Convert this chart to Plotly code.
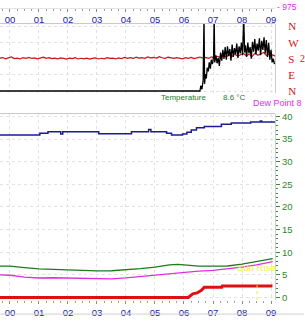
import plotly.graph_objects as go

W, H = 305, 321
def fx(p):
    return p / W
def fy(p):
    return 1 - p / H

# ---------------- data ----------------
hour_ticks = [0, 1, 2, 3, 4, 5, 6, 7, 8, 9]
hour_labels = ["00", "01", "02", "03", "04", "05", "06", "07", "08", "09"]
x_range = [-0.3436, 9.1409]

# top panel: wind direction (degrees) sampled every 0.1 h starting at -0.35
wind_t0 = -0.35
wind_step = 0.1
wind_dir = [183, 187, 180, 185, 190, 181, 184, 179, 186, 183,
            188, 182, 185, 180, 184, 189, 183, 186, 181, 184,
            180, 185, 182, 178, 184, 181, 186, 179, 183, 180,
            184, 178, 182, 185, 179, 183, 180, 186, 182, 184,
            179, 185, 181, 188, 183, 186, 182, 189, 184, 187,
            183, 190, 185, 188, 184, 192, 186, 183, 189, 185,
            182, 187, 184, 180, 186, 183, 188, 181, 185, 190,
            184, 188, 183, 191, 186, 194, 188, 198, 190, 203,
            192, 206, 195, 201, 210, 197, 205, 193, 212, 200,
            208, 215, 198, 210, 202, 195]

# top panel: wind speed (drawn on the direction scale)
wind_spd_h = [-0.35, 6.50, 6.55, 6.58, 6.62, 6.66, 6.69, 6.71, 6.74, 6.77, 6.80, 6.84,
              6.87, 6.91, 6.94, 6.98, 7.02, 7.04, 7.06, 7.10, 7.14, 7.18, 7.22, 7.26,
              7.30, 7.34, 7.38, 7.42, 7.46, 7.50, 7.54, 7.58, 7.62, 7.66, 7.70, 7.74,
              7.78, 7.82, 7.86, 7.90, 7.94, 7.98, 8.02, 8.06, 8.09, 8.12, 8.16, 8.20,
              8.24, 8.28, 8.32, 8.36, 8.40, 8.44, 8.48, 8.52, 8.56, 8.60, 8.64, 8.68,
              8.72, 8.76, 8.80, 8.84, 8.88, 8.92, 8.96, 9.00, 9.04, 9.08, 9.12]
wind_spd_v = [0, 0, 0, 30, 10, 60, 420, 40, 95, 70, 130, 110,
              160, 125, 175, 150, 190, 420, 160, 200, 155, 185, 140, 215,
              170, 230, 180, 245, 175, 250, 195, 235, 170, 260, 190, 240,
              205, 265, 185, 250, 210, 270, 200, 420, 215, 255, 190, 270,
              210, 245, 180, 275, 220, 290, 205, 265, 225, 295, 200, 280,
              230, 300, 210, 285, 190, 270, 175, 230, 160, 180, 150]

# bottom panel
humid_h = [-0.35, 1.03, 1.31, 1.75, 1.82, 3.06, 4.19, 4.78, 4.86, 5.40, 5.57, 5.95,
           6.10, 6.25, 6.43, 6.70, 7.29, 7.63, 8.30, 8.63, 8.68, 9.14]
humid_v = [35.9, 36.3, 36.65, 36.1, 36.65, 36.2, 36.65, 37.1, 36.65, 36.3, 35.9, 36.1,
           36.5, 37.0, 37.5, 37.8, 38.3, 38.55, 38.8, 39.0, 38.8, 38.8]

temp_h = [-0.35, 0, 0.5, 1, 1.5, 2, 2.5, 3, 3.5, 4, 4.5, 5, 5.5, 5.8, 6.2, 6.5, 7,
          7.5, 8, 8.5, 9, 9.06]
temp_v = [6.9, 6.9, 6.6, 6.3, 6.2, 6.05, 6.0, 5.85, 5.9, 6.05, 6.35, 6.7, 7.2, 7.3,
          7.1, 6.9, 6.9, 6.95, 7.35, 7.9, 8.5, 8.6]

dew_h = [-0.35, 0, 0.5, 1, 1.5, 2, 2.5, 3, 3.5, 4, 4.5, 5, 5.5, 6, 6.5, 7, 7.5, 8,
         8.5, 9, 9.06]
dew_v = [5.0, 4.9, 4.5, 4.3, 4.35, 4.3, 4.2, 4.05, 4.1, 4.3, 4.6, 5.0, 5.3, 5.5,
         5.8, 6.0, 6.3, 6.7, 7.2, 7.8, 7.9]

rain_h = [-0.35, 6.15, 6.30, 6.45, 6.60, 6.70, 7.30, 7.32, 9.05]
rain_v = [0, 0, 0.8, 1.0, 1.6, 2.25, 2.25, 2.5, 2.5]

sunrise_h = 8.52
sunrise_v = [-0.6, 3.5]

right_ticks = [0, 5, 10, 15, 20, 25, 30, 35, 40]
dir_ticks = [0, 90, 180, 270, 360]
dir_labels = ["N", "E", "S", "W", "N"]

wind_h = [wind_t0 + i * wind_step for i in range(len(wind_dir))]

# ---------------- figure ----------------
fig = go.Figure()

fig.add_trace(go.Scatter(x=wind_h, y=wind_dir, mode="lines",
                         line=dict(color="#d01414", width=1.2), xaxis="x2", yaxis="y2"))
fig.add_trace(go.Scatter(x=wind_spd_h, y=wind_spd_v, mode="lines",
                         line=dict(color="#000000", width=1.3), xaxis="x2", yaxis="y2"))

fig.add_trace(go.Scatter(x=humid_h, y=humid_v, mode="lines", line_shape="hv",
                         line=dict(color="#1c1c90", width=1.5), xaxis="x", yaxis="y"))
fig.add_trace(go.Scatter(x=temp_h, y=temp_v, mode="lines",
                         line=dict(color="#1e7a1e", width=1.3), xaxis="x", yaxis="y"))
fig.add_trace(go.Scatter(x=dew_h, y=dew_v, mode="lines",
                         line=dict(color="#e02ee0", width=1.3), xaxis="x", yaxis="y"))
fig.add_trace(go.Scatter(x=rain_h, y=rain_v, mode="lines",
                         line=dict(color="#e01010", width=3), xaxis="x", yaxis="y"))
fig.add_trace(go.Scatter(x=[sunrise_h, sunrise_h], y=sunrise_v, mode="lines",
                         line=dict(color="#f0e040", width=1, dash="dot"), xaxis="x", yaxis="y"))

grid = dict(showgrid=True, gridcolor="#e2e2e2", griddash="dot", gridwidth=1, zeroline=False)
tickfont_x = dict(family="Liberation Sans", size=9.5, color="#1a1aa8")

fig.update_layout(
    width=W, height=H, margin=dict(l=0, r=0, t=0, b=0),
    paper_bgcolor="white", plot_bgcolor="white", showlegend=False,
    xaxis=dict(domain=[0, fx(276)], range=x_range, anchor="y",
               tickvals=hour_ticks, ticktext=hour_labels, ticks="outside", ticklen=3,
               tickcolor="#8888a0", tickfont=tickfont_x, showline=False,
               minor=dict(dtick=0.25, ticks="outside", ticklen=2, tickcolor="#a0a0b0",
                          showgrid=False),
               **grid),
    xaxis2=dict(domain=[0, fx(276)], range=x_range, anchor="free", position=fy(5),
                side="bottom", tickvals=hour_ticks, ticktext=hour_labels, ticks="outside",
                ticklen=3, tickcolor="#8888a0", tickfont=tickfont_x, showline=True,
                linecolor="#e4e4e4",
                minor=dict(dtick=0.25, ticks="outside", ticklen=2, tickcolor="#a0a0b0",
                           showgrid=False),
                **grid),
    yaxis=dict(domain=[fy(304), fy(113)], range=[-0.65, 40.65], anchor="x", side="right",
               tickvals=right_ticks, ticks="outside", ticklen=4, tickcolor="#3c8c3c",
               tickfont=dict(family="Liberation Sans", size=9.5, color="#2a8a2a"),
               showline=True, linecolor="#c4d4c4",
               minor=dict(dtick=1, ticks="outside", ticklen=2, tickcolor="#3c8c3c",
                          showgrid=False),
               **grid),
    yaxis2=dict(domain=[fy(92), fy(21)], range=[-11, 377], anchor="x2", side="right",
                tickvals=dir_ticks, ticktext=dir_labels, ticks="", ticklabelstandoff=10,
                tickfont=dict(family="Liberation Serif", size=11, color="#d01414"),
                showline=True, linecolor="#cccccc",
                **grid),
)

# panel borders
fig.add_shape(type="line", xref="paper", yref="paper", x0=0, x1=fx(276), y0=fy(21), y1=fy(21),
              line=dict(color="#c8c8c8", width=1))
fig.add_shape(type="line", xref="paper", yref="paper", x0=0, x1=fx(276), y0=fy(113), y1=fy(113),
              line=dict(color="#c8c8c8", width=1))
fig.add_shape(type="line", xref="paper", yref="paper", x0=0, x1=1, y0=fy(318), y1=fy(318),
              line=dict(color="#d0d0d0", width=1))

def note(text, px, py, color, size, anchor="left", family="Liberation Sans"):
    fig.add_annotation(text=text, xref="paper", yref="paper", x=fx(px), y=fy(py),
                       xanchor=anchor, yanchor="middle", showarrow=False,
                       font=dict(family=family, size=size, color=color))

note("Temperature", 160, 97, "#2a7a2a", 8)
note("8.6 °C", 222, 97, "#2a7a2a", 8)
note("Dew Point 8", 305, 102, "#e02ee0", 9, anchor="right")
note("- 975", 276, 4, "#e02ee0", 8.5)
note("2", 299, 57, "#d01414", 10, family="Liberation Serif")
note("Sun Rise", 236, 270, "#f2f230", 9.5)

fig.write_html("out.html")
